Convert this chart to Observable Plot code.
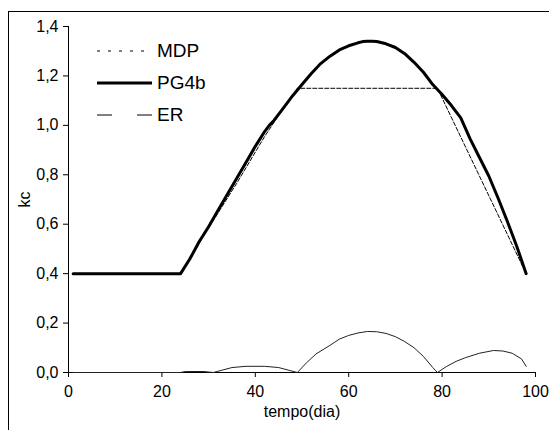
<!DOCTYPE html>
<html>
<head>
<meta charset="utf-8">
<script src="https://cdn.jsdelivr.net/npm/d3@7"></script>
<script src="https://cdn.jsdelivr.net/npm/@observablehq/plot@0.6"></script>
<style>
  html, body { margin: 0; padding: 0; background: #fff; overflow: hidden; width: 549px; height: 430px; }
  #wrap { position: relative; width: 549px; height: 430px; font-family: "Liberation Sans", Arial, sans-serif; }
  #frame { position: absolute; left: 8px; top: 11px; width: 700px; height: 600px; border-left: 1.5px solid #000; border-top: 1.5px solid #000; }
  #chart { position: absolute; left: 0; top: 0; }
  .item { position: absolute; left: 95px; display: flex; align-items: center; height: 24px; font-size: 19px; line-height: 24px; color: #000; }
  .item svg { width: 60px; height: 10px; margin-right: 2px; }
</style>
</head>
<body>
<div id="wrap">
  <div id="frame"></div>
  <div id="chart"></div>
  <div id="legend"></div>
</div>
<script>
// Data
const seriesNames = ["MDP", "PG4b", "ER"];

const pg4bDay = [1, 24, 26, 28, 30, 32, 34, 36, 38, 40, 42, 43, 44, 46, 48, 50, 52, 54, 56, 58, 60, 62, 63, 64, 65, 66, 68, 70, 72, 74, 76, 78, 80, 82, 84, 86, 88, 90, 92, 94, 96, 98];
const pg4bKc  = [0.40, 0.40, 0.46, 0.53, 0.59, 0.655, 0.72, 0.785, 0.85, 0.915, 0.975, 1.00, 1.02, 1.07, 1.12, 1.165, 1.21, 1.25, 1.28, 1.305, 1.322, 1.334, 1.339, 1.34, 1.34, 1.339, 1.33, 1.315, 1.29, 1.255, 1.215, 1.165, 1.125, 1.08, 1.03, 0.945, 0.87, 0.795, 0.705, 0.61, 0.51, 0.40];

const mdpDay = [1, 24, 30, 36, 42, 45, 49, 79, 98];
const mdpKc  = [0.40, 0.40, 0.585, 0.765, 0.955, 1.04, 1.15, 1.15, 0.40];

const erDay = [1, 24, 25, 29, 31, 33, 35, 38, 42, 45, 47, 49, 51, 53, 56, 58, 60, 62, 64, 66, 68, 70, 72, 74, 76, 78, 79, 81, 83, 85, 88, 91, 93, 95, 97, 98];
const erKc  = [0, 0, 0.004, 0.004, 0, 0.01, 0.02, 0.025, 0.025, 0.02, 0.01, 0, 0.04, 0.075, 0.11, 0.135, 0.15, 0.16, 0.166, 0.165, 0.158, 0.145, 0.125, 0.1, 0.065, 0.02, 0, 0.025, 0.045, 0.06, 0.078, 0.089, 0.087, 0.078, 0.055, 0.025];

const xTicks = [0, 20, 40, 60, 80, 100];
const yTicks = [0, 0.2, 0.4, 0.6, 0.8, 1.0, 1.2, 1.4];

const pg4b = pg4bDay.map((d, i) => ({day: d, kc: pg4bKc[i]}));
const mdp = mdpDay.map((d, i) => ({day: d, kc: mdpKc[i]}));
const er = erDay.map((d, i) => ({day: d, kc: erKc[i]}));

const fmtY = d => d3.format(".1f")(d).replace(".", ",");

const chart = Plot.plot({
  width: 549,
  height: 430,
  marginLeft: 68,
  marginRight: 14,
  marginTop: 26,
  marginBottom: 58,
  style: {fontFamily: "'Liberation Sans', Arial, sans-serif", fontSize: "16px", color: "#000", background: "transparent", overflow: "visible"},
  x: {domain: [0, 100]},
  y: {domain: [0, 1.4]},
  marks: [
    Plot.axisX({ticks: xTicks, tickSize: 5, tickPadding: 8, label: "tempo(dia)", labelAnchor: "center", labelOffset: 44, labelArrow: "none", fontSize: 16}),
    Plot.axisY({ticks: yTicks, tickFormat: fmtY, tickSize: 5, tickPadding: 5, label: "kc", labelAnchor: "center", labelOffset: 50, labelArrow: "none", fontSize: 16}),
    Plot.ruleY([0], {stroke: "#000", strokeWidth: 1}),
    Plot.ruleX([0], {stroke: "#000", strokeWidth: 1}),
    Plot.line(er, {x: "day", y: "kc", stroke: "#222", strokeWidth: 1}),
    Plot.line(mdp, {x: "day", y: "kc", stroke: "#000", strokeWidth: 1, strokeDasharray: "4,2"}),
    Plot.line(pg4b, {x: "day", y: "kc", stroke: "#000", strokeWidth: 3})
  ]
});
document.getElementById("chart").appendChild(chart);

// Legend
const legendStyles = {
  MDP: {dash: "3,8", width: 1},
  PG4b: {dash: null, width: 3},
  ER: {dash: "15,25", width: 1}
};
const legend = document.getElementById("legend");
seriesNames.forEach((name, i) => {
  const s = legendStyles[name];
  const div = document.createElement("div");
  div.className = "item";
  div.style.top = (39 + i * 32) + "px";
  div.innerHTML = `<svg viewBox="0 0 60 10"><line x1="2" y1="5" x2="57" y2="5" stroke="#000" stroke-width="${s.width}" ${s.dash ? `stroke-dasharray="${s.dash}"` : ""}/></svg><span>${name}</span>`;
  legend.appendChild(div);
});
</script>
</body>
</html>
